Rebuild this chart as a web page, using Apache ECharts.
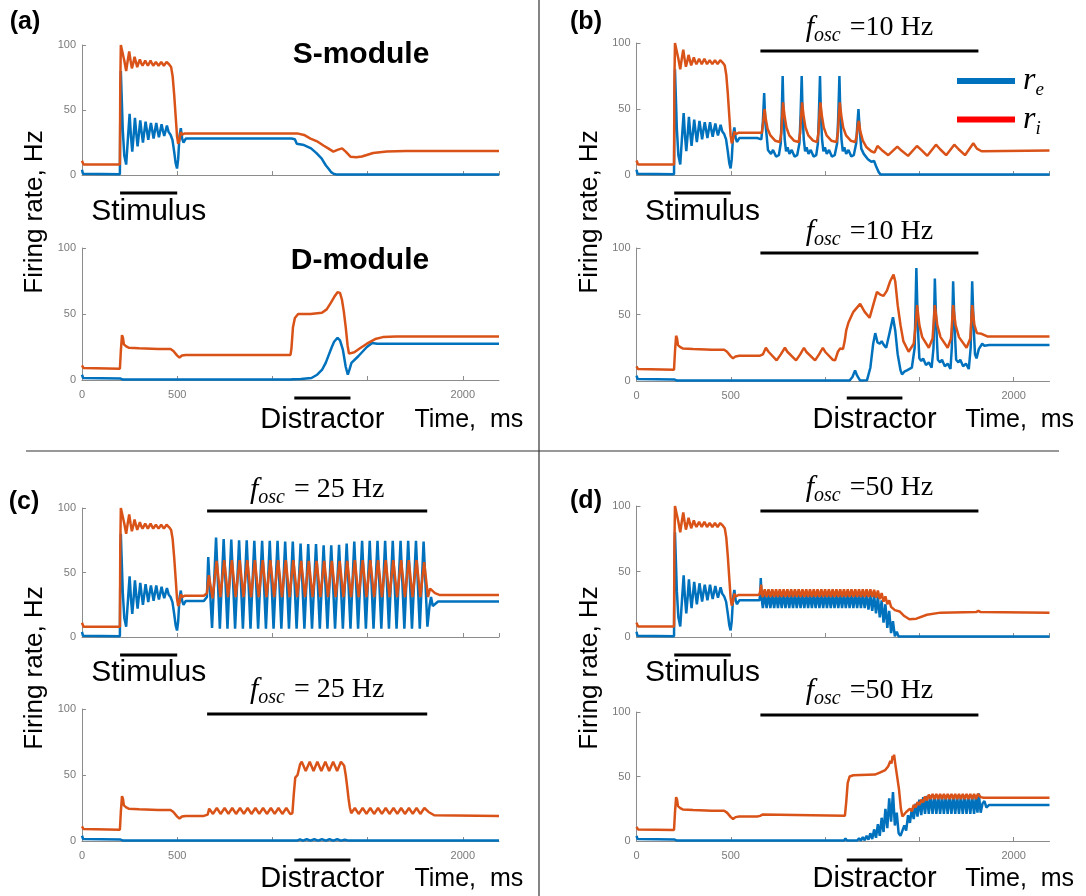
<!DOCTYPE html>
<html><head><meta charset="utf-8">
<script src="https://cdn.jsdelivr.net/npm/echarts/dist/echarts.min.js"></script>
<style>html,body{margin:0;padding:0;background:#fff}#c{width:1086px;height:896px}</style>
</head><body><div id="c"></div><script>
// ---------- DATA (time in ms, firing rate in Hz) ----------
const xTickValues = [0, 500, 1000, 1500, 2000];
const xTickLabels = ['0', '500', '', '', '2000'];
const yTickValues = [0, 50, 100];
const yTickLabels = ['0', '50', '100'];
const stimWindow = [200, 500];
const distractorWindow = [1115, 1410];
const oscWindow = [657, 1813];
const oscLabels = ['=10 Hz', '= 25 Hz', '=50 Hz'];

// S-module, common part (0..640 ms)
const stimS_E = [[0,4],[5,1],[199,0.5],[201,45],[204,80],[208,62],[214,35],[222,15],[232,8],[242,30],[250,47],[257,30],[264,18],[271,30],[278,44],[285,32],[292,22],[299,32],[306,42],[313,33],[320,25],[327,33],[334,41],[341,34],[348,27],[355,34],[362,40],[369,34],[376,28],[383,34],[390,40],[397,34],[404,29],[411,34],[418,39],[425,34],[432,30],[439,34],[446,38],[455,33],[465,31],[475,27],[484,18],[492,9],[499,5],[505,12],[512,30],[519,36],[526,28],[533,25],[545,28],[640,28]];
const stimS_I = [[0,11],[8,8],[199,8],[201,70],[204,100],[214,100],[222,88],[232,80],[240,88],[248,95],[255,88],[262,82],[269,86],[276,91],[283,87],[290,83],[297,86],[304,89],[311,86],[318,84],[325,86],[332,88],[339,86],[346,84],[353,86],[360,88],[367,86],[374,84],[381,85.5],[388,87],[395,85.5],[402,84],[409,85.5],[416,87],[423,85.5],[430,84],[437,85.5],[444,87],[458,85],[468,83],[476,76],[484,62],[492,45],[499,30],[505,24],[512,27],[519,33],[526,31],[540,32],[640,32]];
// D-module, common part (0..640 ms)
const baseD_E = [[0,4],[6,1.5],[200,1.2],[215,0.3],[640,0.3]];
const baseD_I = [[0,11],[8,9],[199,8.5],[204,22],[210,34],[215,32],[220,27],[232,25.5],[245,24.5],[300,24],[400,23.5],[465,23.5],[480,22],[500,18.5],[512,17],[525,18.5],[545,19],[640,19]];

// (a) no oscillation
const aTopE = [[1100,28],[1118,27.5],[1128,24],[1166,23],[1203,20.5],[1230,17],[1258,12.8],[1280,7.5],[1294,5],[1310,2],[1321,1],[1340,0.3],[2190,0.3]];
const aTopI = [[1100,32],[1130,32],[1166,30.8],[1200,28],[1238,25.6],[1270,22.5],[1293,20.5],[1320,18],[1345,19.5],[1366,20.5],[1385,18],[1411,14],[1440,13.6],[1470,14.2],[1529,16.9],[1600,18],[1700,18.5],[2190,18.5]];
const aBotE = [[1095,0.3],[1100,1.2],[1108,0.6],[1150,0.8],[1205,1.5],[1235,4],[1260,7.6],[1280,13],[1296,19],[1312,25],[1324,29],[1342,32],[1355,30],[1370,23],[1385,10],[1396,4],[1405,8],[1415,13],[1451,18],[1496,25],[1524,28],[1550,27.5],[2190,27.5]];
const aBotI = [[1095,19],[1100,24],[1108,40],[1118,47],[1135,50],[1200,50],[1260,51],[1285,53.5],[1305,58],[1325,63],[1342,66.5],[1355,66],[1365,61],[1375,52],[1385,40],[1395,26],[1402,20],[1412,19.5],[1430,21],[1460,24],[1496,27.5],[1540,31],[1580,32.5],[1650,33],[2190,33]];

// (b) 10 Hz
const bTopE = [[650,28],[662,27],[670,40],[677,62],[683,40],[690,30],[697,19],[705,20],[713,16],[724,19],[740,14],[755,15],[765,24],[770,45],[775,75],[780,45],[786,27],[793,18],[801,21],[811,16],[823,19],[838,14],[852,15],[864,24],[870,45],[876,75],[881,45],[887,27],[894,18],[902,21],[912,16],[924,19],[939,14],[953,15],[962,24],[967,45],[973,75],[978,45],[984,27],[991,18],[999,21],[1009,16],[1021,19],[1036,14],[1051,15],[1064,24],[1070,45],[1076,75],[1081,45],[1087,27],[1094,18],[1102,21],[1112,16],[1124,19],[1139,14],[1152,15],[1165,24],[1171,38],[1177,50],[1183,35],[1192,20],[1205,16],[1227,12],[1245,10],[1260,10.6],[1272,6],[1285,2],[1295,0.3],[2190,0.3]];
const bTopI = [[650,32],[665,32],[672,40],[679,50],[686,42],[695,35],[710,30],[735,26],[760,25],[768,32],[773,45],[777,55],[785,45],[795,36],[810,30],[835,26],[860,25],[868,32],[873,45],[878,55],[886,45],[896,36],[911,30],[936,26],[957,25],[965,32],[970,45],[975,55],[983,45],[993,36],[1008,30],[1033,26],[1060,25],[1068,32],[1073,45],[1078,55],[1086,45],[1096,36],[1111,30],[1136,26],[1160,25],[1168,30],[1174,38],[1179,41],[1187,33],[1200,26],[1220,21],[1245,18],[1262,17],[1278,22],[1300,19],[1335,15],[1383,21.5],[1405,18.5],[1440,14.5],[1487,22],[1510,19],[1542,14.5],[1588,23],[1610,19.5],[1642,15],[1685,23],[1708,19.5],[1742,15],[1786,24],[1805,20],[1830,18],[2190,18.5]];
const bBotE = [[640,0.3],[1130,0.3],[1145,3],[1159,8],[1170,4],[1186,0.3],[1222,0.5],[1240,10],[1255,28],[1266,36],[1278,29],[1290,28],[1300,30],[1312,27],[1324,25],[1340,35],[1360,48],[1372,38],[1385,20],[1400,8],[1408,5],[1420,7],[1434,8],[1460,10],[1475,25],[1484,85],[1492,40],[1500,17],[1510,15],[1520,17],[1535,12],[1550,14],[1565,10],[1575,25],[1582,77],[1590,40],[1598,16],[1610,14],[1620,16],[1635,11],[1650,13],[1665,9],[1672,25],[1679,75],[1687,40],[1695,16],[1707,14],[1717,16],[1732,11],[1747,13],[1762,9],[1772,25],[1780,75],[1788,40],[1795,20],[1803,17],[1815,24],[1833,28],[1845,26.5],[1870,27],[2190,27]];
const bBotI = [[640,19],[655,19],[670,20],[686,25],[700,22],[743,15.5],[765,20],[787,25],[800,22],[846,15.5],[868,20],[888,25],[900,22],[947,15.5],[968,20],[988,25],[1000,22],[1040,16],[1053,15.5],[1068,22],[1080,24.5],[1095,24],[1104,30],[1112,38],[1124,44],[1150,52],[1186,58],[1210,52],[1236,47.5],[1255,57],[1275,67],[1292,65],[1310,64],[1328,68],[1345,75],[1363,80],[1372,75],[1385,57],[1400,42],[1415,30],[1443,22],[1470,28],[1480,42],[1488,57],[1500,42],[1515,33],[1550,25],[1570,32],[1582,57],[1595,42],[1612,33],[1650,25],[1668,32],[1679,57],[1692,42],[1710,33],[1750,25],[1770,32],[1780,57],[1792,42],[1805,36],[1830,35.5],[1860,33.5],[2190,33.5]];

// (c) 25 Hz
const cTopE = [[640,28],[650,28.5],[656,31],[663,62],[683,7],[704,77],[724,6.5],[744,76],[764,6.5],[784,75.5],[804,6.5],[825,75],[845,6.5],[865,75],[885,6.5],[905,74.5],[925,6.5],[946,74.5],[966,6.5],[986,74.5],[1006,6.5],[1027,74.5],[1047,6.5],[1067,74],[1087,6.5],[1107,74],[1127,6.5],[1148,72.5],[1168,6.5],[1188,72],[1208,6.5],[1229,72],[1249,6.5],[1269,71],[1289,6.5],[1309,71],[1329,6.5],[1350,71.5],[1370,6.5],[1390,72.5],[1410,6.5],[1430,74],[1450,6.5],[1471,74.5],[1491,6.5],[1511,74.5],[1531,6.5],[1552,74.5],[1572,6.5],[1592,74.5],[1612,6.5],[1632,74.5],[1652,6.5],[1673,74.5],[1693,6.5],[1713,74.5],[1733,6.5],[1754,74.5],[1774,6.5],[1794,74],[1814,8],[1825,24],[1833,31],[1842,24],[1852,25],[1870,27.5],[2190,27.5]];
const cTopI = [[640,32],[650,32.5],[656,34],[666,48],[686,30],[707,59],[727,31],[747,59.5],[767,31],[787,59.5],[807,31],[828,59.5],[848,31],[868,59.5],[888,31],[908,59.5],[928,31],[949,59.5],[969,31],[989,59.5],[1009,31],[1030,59.5],[1050,31],[1070,59.5],[1090,31],[1110,59.5],[1130,31],[1151,59],[1171,31],[1191,59],[1211,31],[1232,59],[1252,31],[1272,59],[1292,31],[1312,59],[1332,31],[1353,59],[1373,31],[1393,59],[1413,31],[1433,59.5],[1453,31],[1474,59.5],[1494,31],[1514,59.5],[1534,31],[1555,59.5],[1575,31],[1595,59.5],[1615,31],[1635,59.5],[1655,31],[1676,59.5],[1696,31],[1716,59.5],[1736,31],[1757,59.5],[1777,31],[1797,58],[1817,31],[1828,37.5],[1838,37],[1854,34],[1880,32.5],[2190,32.5]];
const cBotE = [[640,0.3],[1130,0.3],[1145,1.2],[1160,0.3],[1180,1.3],[1200,0.3],[1220,1.3],[1240,0.3],[1260,1.3],[1280,0.3],[1300,1.3],[1320,0.3],[1340,1.3],[1360,0.3],[1380,1],[1400,0.3],[2190,0.3]];
const cBotI = [[650,19.5],[660,20],[668,24.5],[688,20.5],[708,25],[728,20.5],[749,25],[769,20.5],[789,25],[809,20.5],[830,25],[850,20.5],[870,25],[890,20.5],[911,25],[931,20.5],[951,25],[971,20.5],[992,25],[1012,20.5],[1032,25],[1052,20.5],[1073,25],[1093,20.5],[1105,21],[1112,35],[1120,48],[1132,50],[1145,58],[1154,60],[1175,53],[1196,60],[1216,53],[1236,60],[1257,53],[1278,60],[1298,53],[1319,60],[1340,53],[1360,60],[1377,57],[1385,50],[1392,42],[1400,32],[1407,25],[1414,21],[1433,25],[1453,20.5],[1474,25],[1494,20.5],[1514,25],[1534,20.5],[1555,25],[1575,20.5],[1595,25],[1615,20.5],[1636,25],[1656,20.5],[1676,25],[1696,20.5],[1717,25],[1737,20.5],[1757,25],[1777,20.5],[1798,25],[1820,22],[1850,19.5],[2190,19]];

// (d) 50 Hz
const dTopE = [[640,28],[652,28],[656,33],[659,45],[663,30],[670,22],[680,33],[690,22],[700,33],[710,22],[720,33],[730,22],[740,33],[750,22],[760,33],[770,22],[780,33],[790,22],[800,33],[810,22],[820,33],[830,22],[840,33],[850,22],[860,33],[870,22],[880,33],[890,22],[900,33],[910,22],[920,33],[930,22],[940,33],[950,22],[960,33],[970,22],[980,33],[990,22],[1000,33],[1010,22],[1020,33],[1030,22],[1040,33],[1050,22],[1060,33],[1070,22],[1080,33],[1090,22],[1100,33],[1110,22],[1120,33],[1130,22],[1140,33],[1150,22],[1160,33],[1170,22],[1180,33],[1190,22],[1200,33],[1210,22],[1220,32.5],[1230,21],[1240,32.5],[1250,20],[1260,32],[1270,18],[1280,31],[1290,15],[1300,28],[1310,11],[1320,25],[1330,7],[1340,20],[1350,3],[1360,12],[1370,0.5],[1380,4],[1390,0.3],[2190,0.3]];
const dTopI = [[640,32],[652,32.5],[657,36],[661,40],[665,33],[670,30.5],[680,36.5],[690,30.5],[700,36.5],[710,30.5],[720,36.5],[730,30.5],[740,36.5],[750,30.5],[760,36.5],[770,30.5],[780,36.5],[790,30.5],[800,36.5],[810,30.5],[820,36.5],[830,30.5],[840,36.5],[850,30.5],[860,36.5],[870,30.5],[880,36.5],[890,30.5],[900,36.5],[910,30.5],[920,36.5],[930,30.5],[940,36.5],[950,30.5],[960,36.5],[970,30.5],[980,36.5],[990,30.5],[1000,36.5],[1010,30.5],[1020,36.5],[1030,30.5],[1040,36.5],[1050,30.5],[1060,36.5],[1070,30.5],[1080,36.5],[1090,30.5],[1100,36.5],[1110,30.5],[1120,36.5],[1130,30.5],[1140,36.5],[1150,30.5],[1160,36.5],[1170,30.5],[1180,36.5],[1190,30.5],[1200,36.5],[1210,30.5],[1220,36.5],[1230,30.5],[1240,36.5],[1250,30.5],[1260,36],[1270,30],[1280,35.5],[1290,29],[1300,33.5],[1310,27],[1320,31],[1330,25],[1340,28],[1350,23],[1360,24],[1370,20.5],[1380,20.5],[1395,19.5],[1420,16],[1447,13.5],[1484,14],[1540,17],[1612,18.6],[1800,19],[1813,20],[1825,19],[2190,18.6]];
const dBotE = [[640,0.3],[1100,0.3],[1108,2],[1116,0.3],[1130,0.3],[1140,1],[1150,0.3],[1160,1.5],[1170,0.3],[1180,2],[1190,0.3],[1200,3],[1210,0.5],[1220,4],[1230,1],[1240,6],[1250,1.5],[1260,9],[1270,2.5],[1280,13],[1290,4],[1300,18],[1310,7],[1320,25],[1330,10],[1340,33],[1350,15],[1360,38],[1370,12],[1380,22],[1390,6],[1400,4],[1410,3],[1420,12],[1430,8],[1440,20],[1450,14],[1460,25],[1470,17],[1480,29],[1490,19],[1500,32],[1510,20],[1520,34],[1530,21],[1540,35],[1550,21],[1560,35],[1570,21],[1580,35],[1590,21],[1600,35],[1610,21],[1620,35],[1630,21],[1640,35],[1650,21],[1660,35],[1670,21],[1680,35],[1690,21],[1700,35],[1710,21],[1720,35],[1730,21],[1740,35],[1750,21],[1760,35],[1770,21],[1780,35],[1790,21],[1800,35],[1808,22],[1815,37],[1825,22],[1835,29],[1845,31],[1855,26],[1870,28],[2190,28]];
const dBotI = [[640,19],[655,19.5],[668,20.5],[676,19.5],[1105,19.5],[1112,30],[1120,45],[1130,50],[1150,51],[1264,51.5],[1290,53],[1319,55],[1335,58],[1346,62],[1352,60],[1358,66],[1362,63],[1366,67],[1372,60],[1380,52],[1392,40],[1402,25],[1410,19],[1420,20],[1430,22.5],[1440,21],[1450,25],[1460,23],[1470,28],[1480,26],[1490,30],[1500,28],[1510,32],[1520,30],[1530,34.5],[1540,31.5],[1550,36],[1560,32.5],[1570,36.5],[1580,32.5],[1590,36.5],[1600,32.5],[1610,36.5],[1620,32.5],[1630,36.5],[1640,32.5],[1650,36.5],[1660,32.5],[1670,36.5],[1680,32.5],[1690,36.5],[1700,32.5],[1710,36.5],[1720,32.5],[1730,36.5],[1740,32.5],[1750,36.5],[1760,32.5],[1770,36.5],[1780,32.5],[1790,36.5],[1800,32.5],[1810,36.5],[1815,38],[1825,34],[1840,33.5],[2190,33.5]];

// ---------- LAYOUT ----------
const BLUE = '#0072BD', ORANGE = '#D95319', LEG_RED = '#FF0000';
const SANS = '"Liberation Sans", Arial, sans-serif';
const SERIF = '"Liberation Serif", "Times New Roman", serif';
const X_MAX = 2190;
const LW = 417, RW = 413, LX = 82, RX = 636.5;
const grids = [
  {left: LX, top: 45, width: LW, height: 130},   // a top
  {left: LX, top: 248, width: LW, height: 132},  // a bottom
  {left: RX, top: 43, width: RW, height: 132},   // b top
  {left: RX, top: 248, width: RW, height: 133},  // b bottom
  {left: LX, top: 508, width: LW, height: 129},  // c top
  {left: LX, top: 709, width: LW, height: 132},  // c bottom
  {left: RX, top: 506, width: RW, height: 131},  // d top
  {left: RX, top: 712, width: RW, height: 129}   // d bottom
];
const panels = [
  [stimS_E.concat(aTopE), stimS_I.concat(aTopI)],
  [baseD_E.concat(aBotE), baseD_I.concat(aBotI)],
  [stimS_E.concat(bTopE), stimS_I.concat(bTopI)],
  [baseD_E.concat(bBotE), baseD_I.concat(bBotI)],
  [stimS_E.concat(cTopE), stimS_I.concat(cTopI)],
  [baseD_E.concat(cBotE), baseD_I.concat(cBotI)],
  [stimS_E.concat(dTopE), stimS_I.concat(dTopI)],
  [baseD_E.concat(dBotE), baseD_I.concat(dBotI)]
];
const AX = '#8c8c8c';
const xAxes = grids.map((g, i) => ({
  type: 'value', gridIndex: i, min: 0, max: X_MAX, interval: 500,
  axisLine: {lineStyle: {color: AX, width: 1}},
  axisTick: {inside: true, length: 4, lineStyle: {color: AX}},
  splitLine: {show: false},
  axisLabel: {show: i % 2 === 1, showMaxLabel: false, color: '#7a7a7a', fontSize: 11, fontFamily: SANS, margin: 9,
    formatter: v => { const k = xTickValues.indexOf(v); return k >= 0 ? xTickLabels[k] : ''; }}
}));
const yAxes = grids.map((g, i) => ({
  type: 'value', gridIndex: i, min: 0, max: 100, interval: 50,
  axisLine: {show: true, lineStyle: {color: AX, width: 1}},
  axisTick: {show: true, inside: true, length: 4, lineStyle: {color: AX}},
  splitLine: {show: false},
  axisLabel: {color: '#7a7a7a', fontSize: 11, fontFamily: SANS, margin: 6,
    formatter: v => { const k = yTickValues.indexOf(v); return k >= 0 ? yTickLabels[k] : ''; }}
}));
const series = [];
panels.forEach((p, i) => {
  series.push({name: 're', type: 'line', xAxisIndex: i, yAxisIndex: i, data: p[0], showSymbol: false,
    lineStyle: {color: BLUE, width: 2.5}, itemStyle: {color: BLUE}, animation: false, silent: true});
  series.push({name: 'ri', type: 'line', xAxisIndex: i, yAxisIndex: i, data: p[1], showSymbol: false,
    lineStyle: {color: ORANGE, width: 2.5}, itemStyle: {color: ORANGE}, animation: false, silent: true});
});

const chart = echarts.init(document.getElementById('c'), null, {renderer: 'canvas'});
chart.setOption({
  backgroundColor: '#fff',
  animation: false,
  textStyle: {fontFamily: SANS},
  grid: grids.map(g => Object.assign({containLabel: false}, g)),
  xAxis: xAxes, yAxis: yAxes, series: series,
  legend: {
    orient: 'vertical', left: 957, top: 65, padding: 0, itemWidth: 58, itemHeight: 6, itemGap: 4, selectedMode: false,
    data: [
      {name: 're', icon: 'rect', itemStyle: {color: BLUE}, lineStyle: {color: BLUE}},
      {name: 'ri', icon: 'rect', itemStyle: {color: LEG_RED}, lineStyle: {color: LEG_RED}}
    ],
    formatter: n => n === 're' ? '{r|r}{s|e}' : '{r|r}{s|i}',
    textStyle: {rich: {
      r: {fontFamily: SERIF, fontStyle: 'italic', fontSize: 32, color: '#000', lineHeight: 32, padding: [0, 0, 0, 3]},
      s: {fontFamily: SERIF, fontStyle: 'italic', fontSize: 19, color: '#000', padding: [18, 0, 0, 0]}
    }}
  }
});

// ---------- ANNOTATIONS ----------
function px(gi, t) { return chart.convertToPixel({gridIndex: gi}, [t, 0])[0]; }
const gr = [];
function bar(gi, win, y, w) {
  gr.push({type: 'line', shape: {x1: px(gi, win[0]), y1: y, x2: px(gi, win[1]), y2: y}, style: {stroke: '#000', lineWidth: w}});
}
function txt(x, y, text, font, el) {
  gr.push(Object.assign({type: 'text', x: x, y: y, style: {text: text, font: font, fill: '#000', textAlign: 'center', textVerticalAlign: 'middle'}}, el || {}));
}
function midX(gi, win) { return (px(gi, win[0]) + px(gi, win[1])) / 2; }
function oscText(gi, y, label) {
  gr.push({type: 'text', x: midX(gi, oscWindow), y: y, style: {
    text: '{f|f}{s|osc}{e| ' + label + '}', textAlign: 'center', textVerticalAlign: 'middle',
    rich: {
      f: {fontFamily: SERIF, fontStyle: 'italic', fontSize: 30, fill: '#000'},
      s: {fontFamily: SERIF, fontStyle: 'italic', fontSize: 20, fill: '#000', padding: [15, 2, 0, 0]},
      e: {fontFamily: SERIF, fontSize: 28, fill: '#000'}
    }}});
}
const F_LBL = 'normal 30px ' + SANS;
const F_LETTER = 'bold 25px ' + SANS;
// stimulus bars + labels (top plots)
[[0, 193, 212], [2, 193, 212], [4, 655, 673], [6, 655, 673]].forEach(([g, yb, yt]) => {
  bar(g, stimWindow, yb, 3); txt(midX(g, stimWindow), yt, 'Stimulus', F_LBL);
});
// distractor bars + labels (bottom plots)
[[1, 398, 420], [3, 398, 420], [5, 860, 879], [7, 860, 879]].forEach(([g, yb, yt]) => {
  bar(g, distractorWindow, yb, 3); txt(midX(g, distractorWindow), yt, 'Distractor', 'normal 29px ' + SANS);
  txt(px(g, 2000) + 6, yt, 'Time,  ms', 'normal 25px ' + SANS);
});
// oscillation bars + labels
[[2, 51, 28, 0], [3, 253, 232, 0], [4, 511, 490, 1], [5, 714, 690, 1], [6, 511, 488, 2], [7, 715, 691, 2]].forEach(([g, yb, yt, k]) => {
  bar(g, oscWindow, yb, 3); oscText(g, yt, oscLabels[k]);
});
txt(25, 22, '(a)', F_LETTER); txt(586, 22, '(b)', F_LETTER); txt(24, 502, '(c)', F_LETTER); txt(586, 501, '(d)', F_LETTER);
txt(361, 55, 'S-module', 'bold 30px ' + SANS); txt(360, 261, 'D-module', 'bold 30px ' + SANS);
[[35, 212], [590, 212], [35, 668], [590, 668]].forEach(([x, y]) => {
  txt(x, y, 'Firing rate, Hz', 'normal 26px ' + SANS, {rotation: Math.PI / 2});
});
// panel dividers
gr.push({type: 'line', shape: {x1: 539, y1: 0, x2: 539, y2: 896}, style: {stroke: '#333', lineWidth: 1.2}});
gr.push({type: 'line', shape: {x1: 26, y1: 451, x2: 1059, y2: 451}, style: {stroke: '#333', lineWidth: 1.2}});
chart.setOption({graphic: gr});
</script></body></html>
